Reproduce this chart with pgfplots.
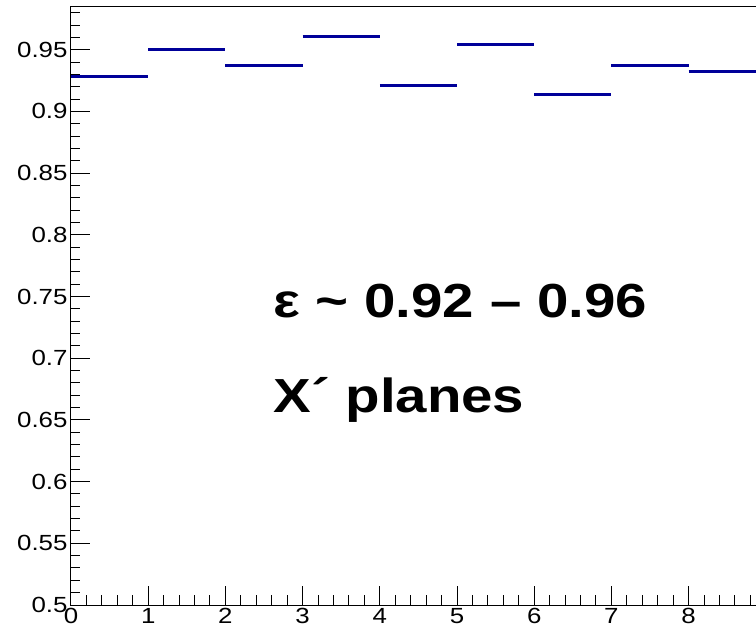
\documentclass[border=0pt]{standalone}
\usepackage{pgfplots}
\pgfplotsset{compat=1.18}
\usepackage{fontspec}
\setmainfont{Liberation Sans}[FakeStretch=1.18]
\definecolor{rootblue}{RGB}{0,0,153}

\begin{document}
\begin{tikzpicture}
\begin{axis}[
    scale only axis, width=772bp, height=598bp,
    xmin=0, xmax=10, ymin=0.5, ymax=0.9846,
    xtick={0,1,2,3,4,5,6,7,8,9,10}, minor x tick num=4,
    ytick={0.5,0.55,0.6,0.65,0.7,0.75,0.8,0.85,0.9,0.95},
    minor ytick={0.51,0.52,0.53,0.54,0.56,0.57,0.58,0.59,0.61,0.62,0.63,0.64,
        0.66,0.67,0.68,0.69,0.71,0.72,0.73,0.74,0.76,0.77,0.78,0.79,
        0.81,0.82,0.83,0.84,0.86,0.87,0.88,0.89,0.91,0.92,0.93,0.94,
        0.96,0.97,0.98},
    tick pos=left, tick align=inside,
    major tick length=19bp, minor tick length=9.5bp,
    tick style={black, line width=1bp},
    axis line style={line width=1bp},
    ticklabel style={font=\fontsize{22}{22}\selectfont},
    /pgf/number format/assume math mode=true,
    yticklabel style={/pgf/number format/.cd, fixed, precision=2},
    clip=false,
]
% histogram bins of width 1, value at left edge
\addplot[jump mark left, rootblue, line width=3bp, mark=none] coordinates {
    (0,0.928) (1,0.950) (2,0.937) (3,0.961) (4,0.921)
    (5,0.954) (6,0.914) (7,0.937) (8,0.932) (9,0.932)
};
\node[anchor=base west, inner sep=0, font=\fontsize{48}{48}\selectfont\bfseries]
    at (axis cs:2.62,0.7326) {ε \textasciitilde{} 0.92 – 0.96};
\node[anchor=base west, inner sep=0, font=\fontsize{48}{48}\selectfont\bfseries]
    at (axis cs:2.62,0.656) {X´ planes};
\coordinate (O) at (rel axis cs:0,0);
\end{axis}
\pgfresetboundingbox
\path[use as bounding box] ([shift={(-71bp,-27bp)}]O) rectangle ([shift={(685bp,605bp)}]O);
\end{tikzpicture}
\end{document}
